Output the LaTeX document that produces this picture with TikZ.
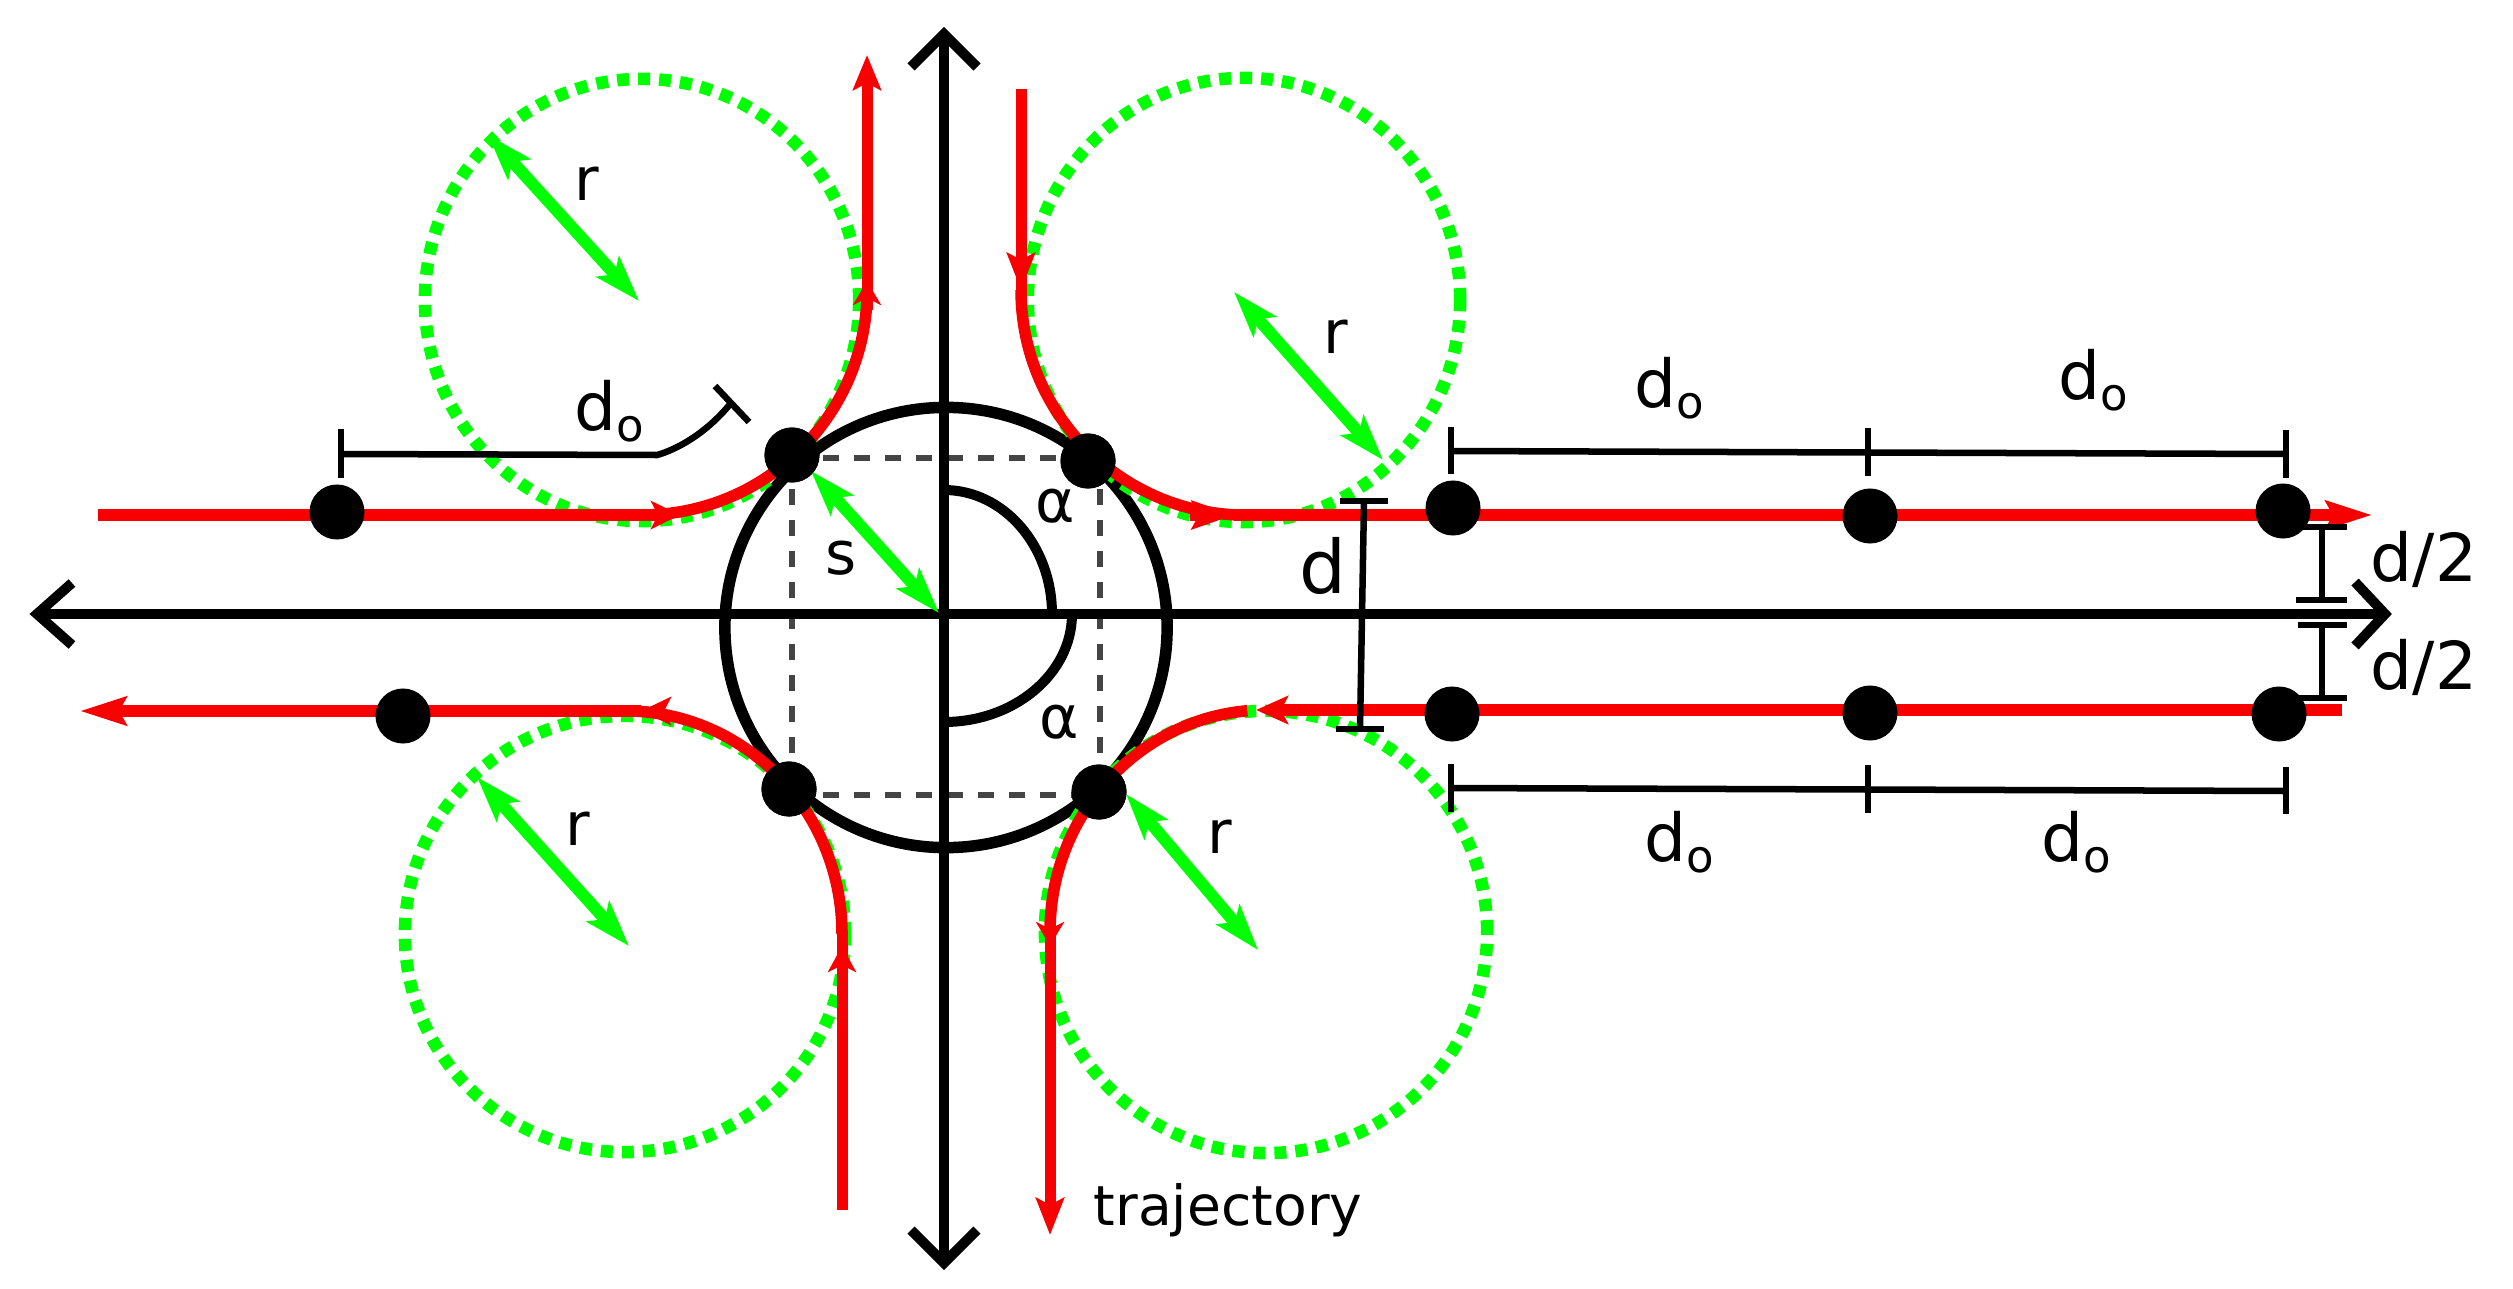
\documentclass[tikz,border=0pt]{standalone}
\usepackage{fontspec}
\setmainfont{DejaVu Sans}
\usetikzlibrary{arrows.meta}
\definecolor{tred}{HTML}{F80000}
\definecolor{tgreen}{HTML}{00FF00}
\definecolor{tgray}{HTML}{444444}
\newcommand{\dosub}{d\raisebox{-3.4pt}{\fontsize{12.8pt}{13pt}\selectfont o}}
\tikzset{
  axisline/.style={line width=0.1cm,black,line join=miter},
  bigcircle/.style={line width=0.115cm,black},
  anglearc/.style={line width=0.1cm,black},
  squaredash/.style={line width=0.065cm,tgray,dash pattern=on 0.16cm off 0.15cm},
  greenring/.style={line width=0.125cm,tgreen,dash pattern=on 0.12cm off 0.09cm},
  redthick/.style={line width=0.115cm,tred},
  redthin/.style={line width=0.11cm,tred},
  redtip/.style={-{Stealth[length=#1,width=0.28cm,inset=0.07cm]}},
  greenarrow/.style={line width=0.12cm,tgreen,{Stealth[length=0.46cm,width=0.30cm,inset=0.1cm]}-{Stealth[length=0.46cm,width=0.30cm,inset=0.1cm]}},
  dot/.style={circle,fill=black,inner sep=0pt,minimum size=0.55cm},
  dimline/.style={line width=0.065cm,black},
  lab/.style={anchor=base west,inner sep=0pt,text=black,font=\fontsize{18.8pt}{20pt}\selectfont},
  smalllab/.style={anchor=base west,inner sep=0pt,text=black,font=\fontsize{17pt}{19pt}\selectfont},
}
\begin{document}
\begin{tikzpicture}[x=0.01cm,y=-0.01cm]
\useasboundingbox[fill=white] (0,0) rectangle (2513,1288);

% named points
\coordinate (o) at (944,614);
\node[dot] (tl) at (792,455) {};
\node[dot] (tr) at (1088,461) {};
\node[dot] (bl) at (789,789) {};
\node[dot] (br) at (1099,792) {};

% dashed square
\coordinate (sq1) at (792,458);
\coordinate (sq2) at (1100,458);
\coordinate (sq3) at (1100,795);
\coordinate (sq4) at (792,795);
\draw[squaredash] (sq1) -- (sq2);
\draw[squaredash] (sq4) -- (sq3);
\draw[squaredash] (sq1) -- (sq4);
\draw[squaredash] (sq2) -- (sq3);

% outer circle and angle arcs
\draw[bigcircle] (946,627.5) circle[x radius=2.21cm,y radius=2.2cm];
\coordinate (a1) at (944,490);
\coordinate (a2) at (944,722);
\draw[anglearc] (a1) .. controls (1004,490) and (1052,546) .. (1052,614);
\draw[anglearc] (a2) .. controls (1014,722) and (1072,674) .. (1072,614);

% axes
\draw[axisline] (37,614) -- (2385,614);
\draw[axisline] (944,34) -- (944,1263);
\draw[axisline] (911,67) -- (944,34) -- (977,67);
\draw[axisline] (911,1230) -- (944,1263) -- (977,1230);
\draw[axisline] (72,583) -- (37,614) -- (72,645);
\draw[axisline] (2355,582) -- (2385,614) -- (2355,646);

% green circles
\draw[greenring] (642,300) circle[x radius=2.17cm,y radius=2.21cm];
\draw[greenring] (1244,300) circle[x radius=2.16cm,y radius=2.22cm];
\draw[greenring] (625,934) circle[x radius=2.2cm,y radius=2.18cm];
\draw[greenring] (1266,932) circle[x radius=2.21cm,y radius=2.21cm];

% red trajectories: upper left
\coordinate (s1) at (98,515);
\coordinate (s2) at (660,515);
\coordinate (e1) at (680,515);
\draw[redthick] (s1) -- (s2);
\draw[redthin,redtip=0.29cm] (s2) -- (e1);
\coordinate (c1) at (642,515);
\draw[redthick] (c1) arc[start angle=270,end angle=360,x radius=2.25cm,y radius=2.25cm];
\coordinate (u1) at (867,310);
\coordinate (u2) at (867,281);
\coordinate (u3) at (867,55);
\draw[redthin,redtip=0.35cm] (u1) -- (u3);
\draw[redthin,redtip=0.24cm] (u1) -- (u2);

% upper right
\coordinate (d1) at (1021,89);
\coordinate (d2) at (1021,290);
\coordinate (d3) at (1021,235);
\draw[redthin] (d1) -- (d2);
\draw[redthin,redtip=0.37cm] (d3) -- (d2);
\coordinate (c2) at (1021,290);
\draw[redthick] (c2) arc[start angle=180,end angle=270,x radius=2.25cm,y radius=2.25cm];
\coordinate (r1) at (1190,515);
\coordinate (r2) at (1234,515);
\draw[redthin,redtip=0.42cm] (r1) -- (r2);
\coordinate (r3) at (1234,515);
\coordinate (r4) at (2372,515);
\draw[redthick,redtip=0.46cm] (r3) -- (r4);

% lower left
\coordinate (l1) at (842,1210);
\coordinate (l2) at (842,946);
\coordinate (l0) at (842,930);
\draw[redthin] (l1) -- (l0);
\draw[redthin,redtip=0.26cm] (l1) -- (l2);
\coordinate (c3) at (842,934);
\draw[redthick] (c3) arc[start angle=0,end angle=90,x radius=2.17cm,y radius=2.23cm];
\coordinate (l3) at (641,711);
\coordinate (l4) at (80,711);
\coordinate (l5) at (662,711);
\draw[redthick,redtip=0.46cm] (l3) -- (l4);
\draw[redthin,redtip=0.30cm] (l5) -- (l3);

% lower right
\coordinate (m1) at (2342,710);
\coordinate (m2) at (1256,710);
\draw[redthick,redtip=0.32cm] (m1) -- (m2);
\coordinate (c4) at (1050,932);
\draw[redthick] (c4) arc[start angle=180,end angle=95,x radius=2.16cm,y radius=2.22cm];
\coordinate (m3) at (1050,915);
\coordinate (m4) at (1050,946);
\coordinate (m5) at (1050,1235);
\draw[redthin,redtip=0.24cm] (m3) -- (m4);
\draw[redthin,redtip=0.37cm] (m3) -- (m5);

% green double arrows
\coordinate (g1a) at (488,135); \coordinate (g1b) at (639,301);
\coordinate (g2a) at (1234,292); \coordinate (g2b) at (1383,460);
\coordinate (g3a) at (477,777); \coordinate (g3b) at (629,946);
\coordinate (g4a) at (1126,794); \coordinate (g4b) at (1258,950);
\coordinate (g5a) at (811,471);
\coordinate (g5b) at (939,613);
\draw[greenarrow] (g1a) -- (g1b);
\draw[greenarrow] (g2a) -- (g2b);
\draw[greenarrow] (g3a) -- (g3b);
\draw[greenarrow] (g4a) -- (g4b);
\draw[greenarrow] (g5a) -- (g5b);

% dots
\node[dot] (p1) at (337,512) {};
\node[dot] (p2) at (403,716) {};
\node[dot] (q1) at (1453,508) {};
\node[dot] (q2) at (1870,516) {};
\node[dot] (q3) at (2283,511) {};
\node[dot] (n1) at (1452,714) {};
\node[dot] (n2) at (1870,713) {};
\node[dot] (n3) at (2279,714) {};
\node[dot] at (tl) {};
\node[dot] at (tr) {};
\node[dot] at (bl) {};
\node[dot] at (br) {};

% dimension: upper left
\draw[dimline] (341,429) -- (341,478);
\draw[dimline] (341,454) -- (657,455) .. controls (675,450) and (705,435) .. (731,403);
\draw[dimline] (715,386) -- (749,422);

% dimension: upper right
\draw[dimline] (1451,427) -- (1451,474);
\draw[dimline] (1868,428) -- (1868,476);
\draw[dimline] (2286,430) -- (2286,478);
\draw[dimline] (1451,451) -- (2286,454);

% dimension: lower right
\draw[dimline] (1451,764) -- (1451,812);
\draw[dimline] (1868,765) -- (1868,813);
\draw[dimline] (2286,767) -- (2286,814);
\draw[dimline] (1451,788) -- (2286,791);

% dimension d
\draw[dimline] (1340,501) -- (1388,501);
\draw[dimline] (1336,729) -- (1384,729);
\draw[dimline] (1364,501) -- (1360,729);

% dimensions d/2
\draw[dimline] (2298,527) -- (2347,527);
\draw[dimline] (2296,600) -- (2347,600);
\draw[dimline] (2322,527) -- (2322,600);
\draw[dimline] (2298,625) -- (2347,625);
\draw[dimline] (2298,698) -- (2347,698);
\draw[dimline] (2322,625) -- (2322,698);

% labels
\node[lab] (t1) at (574,430) {\dosub};
\node[lab] (t2) at (1634,407) {\dosub};
\node[lab] (t3) at (2058,399) {\dosub};
\node[lab] (t4) at (1644,861) {\dosub};
\node[lab] (t5) at (2041,861) {\dosub};
\node[smalllab] (r1t) at (574,201) {r};
\node[smalllab] (r2t) at (1323,353) {r};
\node[smalllab] (r3t) at (565,845) {r};
\node[smalllab] (r4t) at (1207,853) {r};
\node[smalllab] (st) at (825,574) {s};
\node[smalllab] (al1) at (1035,522) {α};
\node[smalllab] (al2) at (1039,738) {α};
\node[lab,font=\fontsize{21pt}{22pt}\selectfont] (dt) at (1299,593) {d};
\node[lab] (dh1) at (2370,581) {d/2};
\node[lab] (dh2) at (2370,689) {d/2};
\node[lab,font=\fontsize{15.7pt}{17pt}\selectfont] (tr1) at (1093,1225) {trajectory};
\end{tikzpicture}
\end{document}
